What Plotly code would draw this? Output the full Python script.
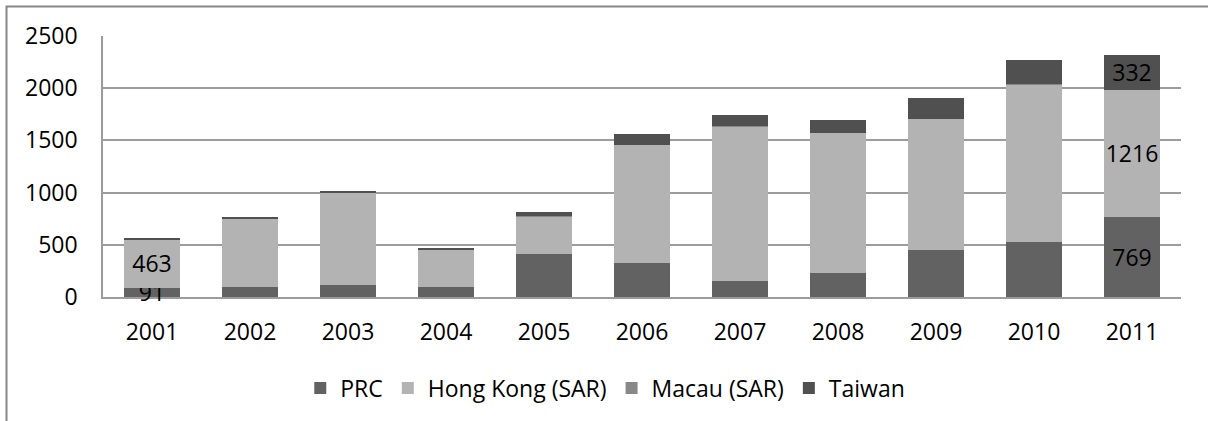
import plotly.graph_objects as go

# Visitor arrivals by origin, 2001-2011
years = ["2001", "2002", "2003", "2004", "2005", "2006",
         "2007", "2008", "2009", "2010", "2011"]
prc = [91, 93, 118, 99, 409, 326, 153, 230, 453, 527, 769]
hong_kong = [463, 661, 881, 358, 361, 1130, 1479, 1341, 1252, 1507, 1216]
macau = [1, 1, 2, 1, 2, 2, 2, 2, 2, 3, 0]
taiwan = [3, 8, 17, 11, 42, 100, 109, 119, 199, 236, 332]

# value labels shown on the first and last columns only
labelled_years = {"2001": ["prc", "hong_kong"], "2011": ["prc", "hong_kong", "taiwan"]}

series = [
    ("prc", "PRC", prc, "#626262"),
    ("hong_kong", "Hong Kong (SAR)", hong_kong, "#b3b3b3"),
    ("macau", "Macau (SAR)", macau, "#888888"),
    ("taiwan", "Taiwan", taiwan, "#505050"),
]

FONT = "'Open Sans', Lato, sans-serif"
FONT_SIZE = 23

fig = go.Figure()
for key, name, values, colour in series:
    text = [str(v) if key in labelled_years.get(y, []) else ""
            for y, v in zip(years, values)]
    fig.add_trace(go.Bar(
        x=years, y=values, name=name,
        marker=dict(color=colour, line=dict(width=0)),
        text=text, textposition="inside", insidetextanchor="middle",
        textangle=0, constraintext="none", cliponaxis=False,
        insidetextfont=dict(family=FONT, size=FONT_SIZE, color="#000000"),
        hoverinfo="x+y+name",
    ))

grid = "#9c9c9c"
fig.update_layout(
    barmode="stack",
    bargap=0.43,
    width=1208, height=421,
    margin=dict(l=103, r=27, t=36, b=124, pad=0),
    paper_bgcolor="white", plot_bgcolor="white",
    font=dict(family=FONT, size=FONT_SIZE, color="#000000"),
    xaxis=dict(type="category", showline=True, linecolor=grid, linewidth=1.5,
               ticks="", showgrid=False, ticklabelstandoff=14,
               layer="below traces"),
    yaxis=dict(range=[0, 2500], dtick=500, showgrid=True, gridcolor=grid,
               gridwidth=1.5, showline=True, linecolor=grid, linewidth=1.5,
               zeroline=False, ticks="", ticklabelstandoff=19),
    legend=dict(orientation="h", x=0.183, xanchor="left", y=-0.349,
                yanchor="middle", font=dict(family=FONT, size=FONT_SIZE),
                traceorder="normal", bgcolor="rgba(0,0,0,0)"),
    showlegend=True,
    shapes=[dict(type="rect", xref="paper", yref="paper",
                 x0=-0.0895, x1=1.1, y0=-0.6, y1=1.113,
                 line=dict(color="#878787", width=2), layer="below")],
)

fig.write_html("out.html")
